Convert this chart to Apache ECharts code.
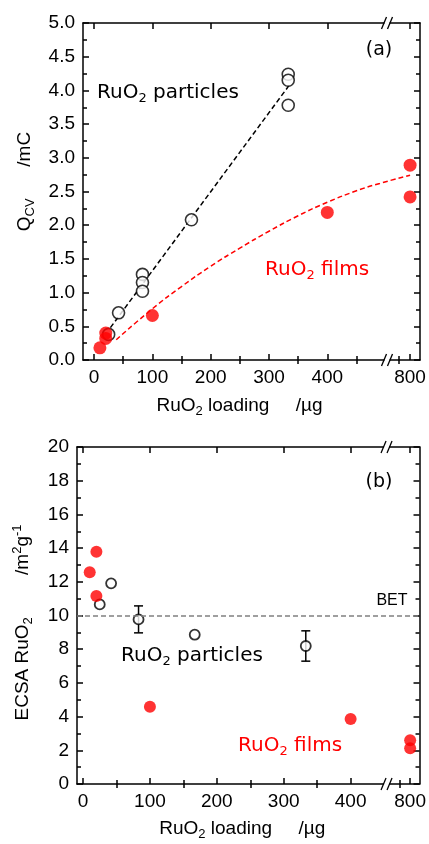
<!DOCTYPE html>
<html>
<head>
<meta charset="UTF-8">
<title>RuO2 charge and ECSA vs loading</title>
<style>
  html, body { margin: 0; padding: 0; background: #fff; }
  #chart { width: 429px; height: 844px; }
</style>
<script src="https://cdn.jsdelivr.net/npm/echarts@6/dist/echarts.min.js"></script>
</head>
<body>
<div id="chart"></div>
<script>
// (a) voltammetric charge vs loading
var partA_x = [25, 42, 83, 83, 83, 167, 333, 333, 333];
var partA_y = [0.38, 0.70, 1.27, 1.15, 1.02, 2.08, 4.24, 4.15, 3.78];
var filmA_x = [10, 20, 20, 100, 400, 800, 800];
var filmA_y = [0.18, 0.40, 0.32, 0.66, 2.19, 2.89, 2.42];
var partFitA_x = [28, 335];
var partFitA_y = [0.48, 4.08];
var filmFitA_x = [38, 100, 150, 200, 250, 300, 350, 400, 450, 748, 800];
var filmFitA_y = [0.30, 0.76, 1.09, 1.39, 1.66, 1.91, 2.14, 2.34, 2.51, 2.62, 2.74];

// (b) ECSA vs loading
var partB_x = [25, 42, 83, 167, 333];
var partB_y = [10.66, 11.91, 9.77, 8.86, 8.19];
var partB_err = [0, 0, 0.8, 0, 0.9];
var filmB_x = [10, 20, 20, 100, 400, 800, 800];
var filmB_y = [12.56, 13.79, 11.16, 4.59, 3.86, 2.60, 2.12];
var betValue = 10;

var xTicksMajor = [0, 100, 200, 300, 400, 800];
var xTicksMinorA = [50, 150, 250, 350, 450, 780];
var xTicksMinorB = [50, 150, 250, 350, 785];

var RED = '#ff0000';
var LAB_FONT = 'Liberation Sans';
var TXT_FONT = 'DejaVu Sans';

// broken x axis: values past "from" are shifted left by "shift"
var brkA = { from: 490, shift: 258, mark: 502.4, min: -19, max: 559 };
var brkB = { from: 450, shift: 311, mark: 453.7, min: -9, max: 503 };
function toAxis(x, b) { return x > b.from ? x - b.shift : x; }
function fromAxis(v, b) { return v > b.mark ? v + b.shift : v; }
function pairs(xs, ys, b) {
  return xs.map(function (x, i) { return [toAxis(x, b), ys[i]]; });
}

var gridA = { left: 83, right: 9, top: 23, height: 337 };
var gridB = { left: 77, right: 9, top: 447, height: 337 };

var axisLn = { color: '#000', width: 1.5 };

function rich(size) {
  return {
    n: { fontFamily: LAB_FONT, fontSize: size, lineHeight: 24, color: '#000' },
    s: { fontFamily: LAB_FONT, fontSize: 13, lineHeight: 14, verticalAlign: 'bottom', color: '#000' },
    u: { fontFamily: LAB_FONT, fontSize: 13, lineHeight: 14, verticalAlign: 'top', color: '#000' }
  };
}

function xAxes(gi, b, minor, nameGap, namePad) {
  var major = xTicksMajor.map(function (v) { return toAxis(v, b); });
  var minorV = minor.map(function (v) { return toAxis(v, b); });
  function base(pos) {
    return { type: 'value', gridIndex: gi, position: pos, min: b.min, max: b.max,
             splitLine: { show: false } };
  }
  var bottom = base('bottom');
  bottom.axisLine = { show: true, onZero: false, lineStyle: axisLn };
  bottom.axisTick = { show: true, inside: true, length: 6, customValues: major, lineStyle: axisLn };
  bottom.axisLabel = { customValues: major, margin: 8, fontFamily: LAB_FONT, fontSize: 19, color: '#000',
                       formatter: function (v) { return String(Math.round(fromAxis(v, b))); } };
  bottom.name = '{n|RuO}{s|2}{n| loading     /µg}';
  bottom.nameLocation = 'middle';
  bottom.nameGap = nameGap;
  bottom.nameTextStyle = { rich: rich(19), padding: [0, namePad, 0, 0] };

  var bottomMinor = base('bottom');
  bottomMinor.axisLine = { show: false };
  bottomMinor.axisTick = { show: true, inside: true, length: 4, customValues: minorV, lineStyle: axisLn };
  bottomMinor.axisLabel = { show: false };

  var top = base('top');
  top.axisLine = { show: true, onZero: false, lineStyle: axisLn };
  top.axisTick = { show: true, inside: true, length: 6, customValues: major, lineStyle: axisLn };
  top.axisLabel = { show: false };

  var topMinor = base('top');
  topMinor.axisLine = { show: false };
  topMinor.axisTick = { show: true, inside: true, length: 4, customValues: minorV, lineStyle: axisLn };
  topMinor.axisLabel = { show: false };

  return [bottom, bottomMinor, top, topMinor];
}

function yAxes(gi, max, interval, digits, name, nameGap, namePad) {
  var left = {
    type: 'value', gridIndex: gi, position: 'left', min: 0, max: max, interval: interval,
    axisLine: { show: true, onZero: false, lineStyle: axisLn },
    axisTick: { show: true, inside: true, length: 6, lineStyle: axisLn },
    minorTick: { show: true, splitNumber: 2, length: 4, lineStyle: axisLn },
    splitLine: { show: false }, minorSplitLine: { show: false },
    axisLabel: { margin: 8, fontFamily: LAB_FONT, fontSize: 19, color: '#000',
                 formatter: function (v) { return v.toFixed(digits); } },
    name: name, nameLocation: 'middle', nameGap: nameGap,
    nameTextStyle: { rich: rich(19), padding: namePad }
  };
  var right = {
    type: 'value', gridIndex: gi, position: 'right', min: 0, max: max, interval: interval,
    axisLine: { show: true, onZero: false, lineStyle: axisLn },
    axisTick: { show: true, inside: true, length: 6, lineStyle: axisLn },
    minorTick: { show: true, splitNumber: 2, length: 4, lineStyle: axisLn },
    splitLine: { show: false }, minorSplitLine: { show: false },
    axisLabel: { show: false }
  };
  return [left, right];
}

var openCircle = { color: '#fff', borderColor: '#000', borderWidth: 1.6 };

var partB_bars = [];
partB_x.forEach(function (x, i) {
  if (partB_err[i] > 0) {
    partB_bars.push([toAxis(x, brkB), partB_y[i] - partB_err[i], partB_y[i] + partB_err[i]]);
  }
});

var option = {
  animation: false,
  backgroundColor: '#fff',
  grid: [gridA, gridB],
  xAxis: xAxes(0, brkA, xTicksMinorA, 34, 24).concat(xAxes(1, brkB, xTicksMinorB, 33, 12)),
  yAxis: yAxes(0, 5, 0.5, 1, '{n|Q}{s|CV}{n|      /mC}', 46, [0, 0, 0, 20])
    .concat(yAxes(1, 20, 2, 0, '{n|ECSA RuO}{s|2}{n|        /m}{u|2}{n|g}{u|-1}', 42, [0, 14, 0, 0])),
  series: [
    {
      type: 'line', xAxisIndex: 0, yAxisIndex: 0, symbol: 'none', z: 2,
      data: pairs(partFitA_x, partFitA_y, brkA),
      lineStyle: { color: '#000', width: 1.5, type: [5, 3] }
    },
    {
      type: 'line', xAxisIndex: 0, yAxisIndex: 0, symbol: 'none', smooth: true, z: 2,
      data: pairs(filmFitA_x, filmFitA_y, brkA),
      lineStyle: { color: RED, width: 1.5, type: [5, 3] }
    },
    {
      type: 'scatter', xAxisIndex: 0, yAxisIndex: 0, symbolSize: 12, z: 3,
      data: pairs(partA_x, partA_y, brkA), itemStyle: openCircle
    },
    {
      type: 'scatter', xAxisIndex: 0, yAxisIndex: 0, symbolSize: 13, z: 4,
      data: pairs(filmA_x, filmA_y, brkA), itemStyle: { color: RED }
    },
    {
      type: 'line', xAxisIndex: 4, yAxisIndex: 2, symbol: 'none', data: [], z: 1,
      markLine: {
        silent: true, symbol: 'none', label: { show: false },
        lineStyle: { color: '#808080', width: 1.5, type: [5, 3] },
        data: [{ yAxis: betValue }]
      }
    },
    {
      type: 'custom', xAxisIndex: 4, yAxisIndex: 2, z: 2,
      data: partB_bars,
      renderItem: function (params, api) {
        var lo = api.coord([api.value(0), api.value(1)]);
        var hi = api.coord([api.value(0), api.value(2)]);
        var w = 4.5;
        var st = { stroke: '#000', lineWidth: 1.5 };
        return {
          type: 'group',
          children: [
            { type: 'line', shape: { x1: lo[0], y1: lo[1], x2: hi[0], y2: hi[1] }, style: st },
            { type: 'line', shape: { x1: lo[0] - w, y1: lo[1], x2: lo[0] + w, y2: lo[1] }, style: st },
            { type: 'line', shape: { x1: hi[0] - w, y1: hi[1], x2: hi[0] + w, y2: hi[1] }, style: st }
          ]
        };
      }
    },
    {
      type: 'scatter', xAxisIndex: 4, yAxisIndex: 2, symbolSize: 10, z: 3,
      data: pairs(partB_x, partB_y, brkB), itemStyle: { color: '#fff', borderColor: '#000', borderWidth: 1.8 }
    },
    {
      type: 'scatter', xAxisIndex: 4, yAxisIndex: 2, symbolSize: 12, z: 4,
      data: pairs(filmB_x, filmB_y, brkB), itemStyle: { color: RED }
    }
  ]
};

var chart = echarts.init(document.getElementById('chart'));
chart.setOption(option);

function label(x, y, text, color) {
  return {
    type: 'text', x: x, y: y, z: 50,
    style: {
      text: text, align: 'left', verticalAlign: 'middle',
      rich: {
        n: { fontFamily: TXT_FONT, fontSize: 20, lineHeight: 24, fill: color },
        s: { fontFamily: TXT_FONT, fontSize: 13, lineHeight: 14, verticalAlign: 'bottom', fill: color }
      }
    }
  };
}

function plain(x, y, text, size, font) {
  return {
    type: 'text', x: x, y: y, z: 50,
    style: { text: text, align: 'center', verticalAlign: 'middle', fill: '#000',
             fontFamily: font, fontSize: size }
  };
}

function breakMark(xm, y0) {
  var st = { stroke: '#000', lineWidth: 1.3 };
  return [
    { type: 'rect', z: 100, shape: { x: xm - 2.5, y: y0 - 3, width: 5, height: 6 }, style: { fill: '#fff' } },
    { type: 'line', z: 101, shape: { x1: xm - 5.5, y1: y0 + 6, x2: xm - 0.5, y2: y0 - 6 }, style: st },
    { type: 'line', z: 101, shape: { x1: xm + 0.5, y1: y0 + 6, x2: xm + 5.5, y2: y0 - 6 }, style: st }
  ];
}

var xmA = chart.convertToPixel({ xAxisIndex: 0 }, brkA.mark);
var xmB = chart.convertToPixel({ xAxisIndex: 4 }, brkB.mark);

var elements = []
  .concat(breakMark(xmA, gridA.top))
  .concat(breakMark(xmA, gridA.top + gridA.height))
  .concat(breakMark(xmB, gridB.top))
  .concat(breakMark(xmB, gridB.top + gridB.height))
  .concat([
    plain(379, 50, '(a)', 19, TXT_FONT),
    plain(379, 482, '(b)', 19, TXT_FONT),
    plain(392, 601, 'BET', 16, LAB_FONT),
    label(97, 93, '{n|RuO}{s|2}{n| particles}', '#000'),
    label(265, 270, '{n|RuO}{s|2}{n| films}', RED),
    label(121, 656, '{n|RuO}{s|2}{n| particles}', '#000'),
    label(238, 746, '{n|RuO}{s|2}{n| films}', RED)
  ]);

chart.setOption({ graphic: { elements: elements } });
</script>
</body>
</html>
